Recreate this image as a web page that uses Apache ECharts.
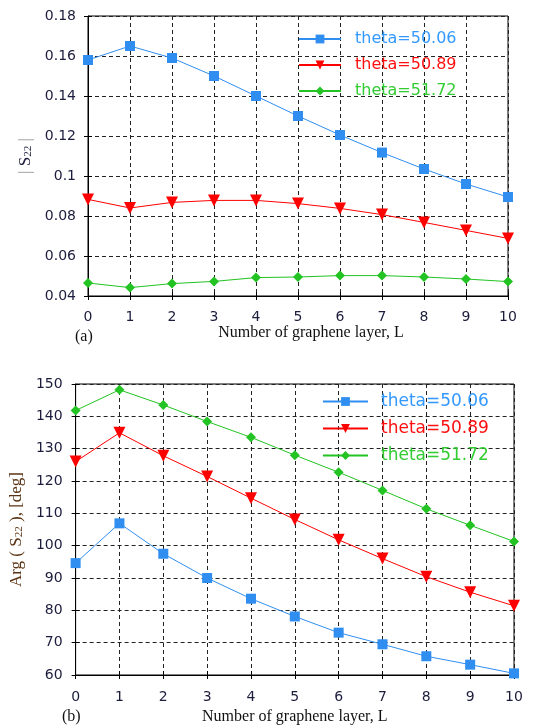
<!DOCTYPE html>
<html>
<head>
<meta charset="utf-8">
<script src="https://cdn.jsdelivr.net/npm/echarts@6/dist/echarts.min.js"></script>
<style>
  html, body { margin: 0; padding: 0; background: #fff; }
  #main { width: 542px; height: 728px; }
</style>
</head>
<body>
<div id="main"></div>
<script>
// number of graphene layers
const layers = [0, 1, 2, 3, 4, 5, 6, 7, 8, 9, 10];
const seriesNames = ['theta=50.06', 'theta=50.89', 'theta=51.72'];

// (a) |S22|
const magTheta1 = [0.158, 0.165, 0.159, 0.150, 0.140, 0.130, 0.1205, 0.1117, 0.1035, 0.096, 0.0895];
const magTheta2 = [0.0883, 0.084, 0.0868, 0.0878, 0.0878, 0.0862, 0.0838, 0.0807, 0.0768, 0.0728, 0.0688];
const magTheta3 = [0.0465, 0.0442, 0.0462, 0.0473, 0.0492, 0.0495, 0.0502, 0.0502, 0.0495, 0.0485, 0.0472];

// (b) Arg(S22) in degrees
const argTheta1 = [94.6, 106.9, 97.5, 90.0, 83.6, 78.1, 73.1, 69.5, 65.8, 63.2, 60.5];
const argTheta2 = [126.0, 134.9, 127.8, 121.4, 114.7, 108.1, 101.8, 96.0, 90.4, 85.6, 81.4];
const argTheta3 = [141.8, 148.2, 143.5, 138.4, 133.5, 128.0, 122.7, 117.1, 111.4, 106.3, 101.3];

const lineColors = ['#2f8ef0', '#ff0000', '#22c322'];
const textColors = ['#3399ff', '#ff1010', '#33cc33'];
const symbols = ['rect', 'triangle', 'diamond'];
const symbolSizes = [10, 12, 10];

const tickFont = { fontFamily: 'DejaVu Sans', fontSize: 14, color: '#1c1c3c' };
const serif = 'Liberation Serif';

const pairs = (ys) => layers.map((x, i) => [x, ys[i]]);

const chart = echarts.init(document.getElementById('main'));

function mkSeries(name, ys, k, idx) {
  return {
    name: name,
    type: 'line',
    xAxisIndex: idx,
    yAxisIndex: idx,
    data: pairs(ys),
    symbol: symbols[k],
    symbolRotate: k === 1 ? 180 : 0,
    symbolSize: symbolSizes[k],
    showSymbol: true,
    lineStyle: { color: lineColors[k], width: 1 },
    itemStyle: { color: lineColors[k] },
    animation: false
  };
}

const splitDash = { show: true, lineStyle: { color: '#222', type: [4, 3], width: 1 } };

function mainX(gridIndex, margin, nameGap, namePad) {
  return {
    type: 'value', gridIndex: gridIndex, min: 0, max: 10, interval: 1,
    name: 'Number of graphene layer, L', nameLocation: 'middle', nameGap: nameGap,
    nameTextStyle: { fontFamily: serif, fontSize: 16, color: '#111', padding: namePad },
    axisLine: { show: true, lineStyle: { color: '#000', width: 1 } },
    axisTick: { show: true, length: 4, lineStyle: { color: '#000' } },
    axisLabel: Object.assign({ margin: margin }, tickFont),
    splitLine: splitDash
  };
}

function innerX(gridIndex) {
  return {
    type: 'value', gridIndex: gridIndex, min: 0, max: 10, interval: 1, position: 'bottom',
    axisLine: { show: false },
    axisTick: { show: true, inside: true, length: 4, lineStyle: { color: '#000' } },
    axisLabel: { show: false }, splitLine: { show: false }
  };
}

function innerY(gridIndex, min, max, interval) {
  return {
    type: 'value', gridIndex: gridIndex, min: min, max: max, interval: interval, position: 'left',
    axisLine: { show: false },
    axisTick: { show: true, inside: true, length: 4, lineStyle: { color: '#000' } },
    axisLabel: { show: false }, splitLine: { show: false }
  };
}

const option = {
  backgroundColor: '#fff',
  animation: false,
  grid: [
    { left: 88, width: 420, top: 16, height: 280, show: true, borderColor: '#000', borderWidth: 1, containLabel: false },
    { left: 73, width: 441, top: 384, height: 291, show: true, borderColor: '#000', borderWidth: 1, containLabel: false }
  ],
  legend: [
    {
      data: seriesNames.map((n, k) => ({ name: n, textStyle: { color: textColors[k] } })),
      left: 298, top: 31, orient: 'vertical', padding: 0,
      itemWidth: 42, itemHeight: 11, itemGap: 10,
      selectedMode: false,
      textStyle: { fontFamily: 'DejaVu Sans', fontSize: 16, lineHeight: 16, padding: [0, 0, 0, 9] }
    },
    {
      data: seriesNames.map((n, k) => ({ name: n, textStyle: { color: textColors[k] } })),
      left: 322, top: 393, orient: 'vertical', padding: 0,
      itemWidth: 45, itemHeight: 11, itemGap: 10,
      selectedMode: false,
      textStyle: { fontFamily: 'DejaVu Sans', fontSize: 17, lineHeight: 17, padding: [0, 0, 0, 8] }
    }
  ],
  xAxis: [
    mainX(0, 14, 29, [0, 0, 0, 26]),
    mainX(1, 15, 34, [0, 0, 0, 0]),
    innerX(0),
    innerX(1)
  ],
  yAxis: [
    {
      type: 'value', gridIndex: 0, min: 0.04, max: 0.18, interval: 0.02,
      name: '{bar|| }{s|S}{sub|22}{bar| |}', nameLocation: 'middle', nameGap: 52, nameRotate: 90,
      nameTextStyle: {
        rich: {
          s: { fontFamily: serif, fontSize: 17, color: '#1c1c3c' },
          sub: { fontFamily: serif, fontSize: 11, color: '#1c1c3c', verticalAlign: 'bottom', padding: [6, 0, 0, 0] },
          bar: { fontFamily: serif, fontSize: 17, color: '#999' }
        }
      },
      axisLine: { show: true, lineStyle: { color: '#000' } },
      axisTick: { show: true, length: 4, lineStyle: { color: '#000' } },
      axisLabel: Object.assign({ margin: 12 }, tickFont),
      splitLine: splitDash
    },
    {
      type: 'value', gridIndex: 1, min: 60, max: 150, interval: 10,
      name: '{t|Arg ( S}{sub|22}{t| ), [deg]}', nameLocation: 'middle', nameGap: 45, nameRotate: 90,
      nameTextStyle: {
        rich: {
          t: { fontFamily: serif, fontSize: 17, color: '#5a3414' },
          sub: { fontFamily: serif, fontSize: 11, color: '#5a3414', padding: [6, 0, 0, 0] }
        }
      },
      axisLine: { show: true, lineStyle: { color: '#000' } },
      axisTick: { show: true, length: 4, lineStyle: { color: '#000' } },
      axisLabel: Object.assign({ margin: 13 }, tickFont),
      splitLine: splitDash
    },
    innerY(0, 0.04, 0.18, 0.02),
    innerY(1, 60, 150, 10)
  ],
  series: [
    mkSeries(seriesNames[0], magTheta1, 0, 0),
    mkSeries(seriesNames[1], magTheta2, 1, 0),
    mkSeries(seriesNames[2], magTheta3, 2, 0),
    mkSeries(seriesNames[0], argTheta1, 0, 1),
    mkSeries(seriesNames[1], argTheta2, 1, 1),
    mkSeries(seriesNames[2], argTheta3, 2, 1)
  ],
  graphic: [
    { type: 'text', left: 75, top: 329, style: { text: '(a)', font: '16px "Liberation Serif"', fill: '#111' } },
    { type: 'text', left: 62, top: 709, style: { text: '(b)', font: '16px "Liberation Serif"', fill: '#111' } }
  ]
};

chart.setOption(option);
</script>
</body>
</html>
